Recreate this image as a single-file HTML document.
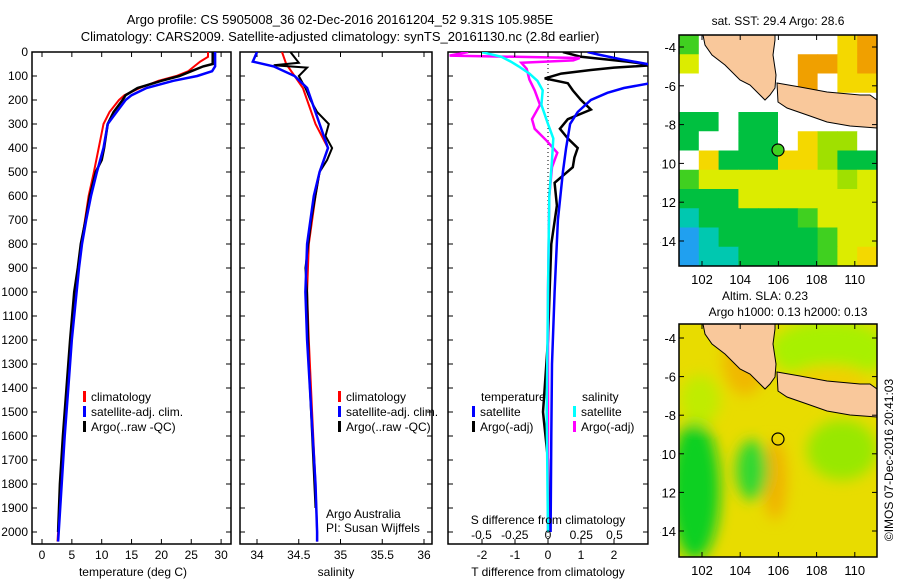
<!DOCTYPE html>
<html><head><meta charset="utf-8"><style>
body{margin:0;background:#fff;width:900px;height:580px;overflow:hidden}
svg{font-family:"Liberation Sans",sans-serif;display:block}
</style></head><body>
<svg id="s" width="900" height="580" viewBox="0 0 900 580">
<defs>
<clipPath id="c1"><rect x="32" y="52" width="199" height="492"/></clipPath>
<clipPath id="c2"><rect x="240" y="52" width="192" height="492"/></clipPath>
<clipPath id="c3"><rect x="448" y="52" width="200" height="492"/></clipPath>
<clipPath id="m1"><rect x="679" y="35" width="198" height="231"/></clipPath>
<clipPath id="m2"><rect x="679" y="324" width="198" height="233"/></clipPath>
<filter id="bl"><feGaussianBlur stdDeviation="7"/></filter>
</defs>
<text x="340" y="24" font-size="13" text-anchor="middle">Argo profile: CS 5905008_36 02-Dec-2016 20161204_52 9.31S 105.985E</text>
<text x="340" y="41" font-size="13" text-anchor="middle">Climatology: CARS2009. Satellite-adjusted climatology: synTS_20161130.nc (2.8d earlier)</text>
<g id="plots"></g>
<g id="maps"></g>
<text transform="translate(893,460) rotate(-90)" font-size="12" text-anchor="middle">©IMOS 07-Dec-2016 20:41:03</text>
</svg>
<script>
// ---------- data ----------
const tempClimDepth=[0,20,40,60,80,100,120,150,180,200,250,300,400,500,600,700,800,900,1000,1200,1400,1600,1800,2000,2040];
const tempClim=[27.8,27.8,26.5,25.5,24.5,22.5,19.5,16.4,13.8,12.9,11.3,10.3,9.5,8.7,7.8,7.2,6.6,6.0,5.5,4.8,4.2,3.6,3.1,2.7,2.6];
const tempSatDepth=[0,60,80,100,120,150,180,200,250,300,400,500,600,700,800,900,1000,1200,1400,1600,1800,2000,2040];
const tempSat=[29.0,29.0,28.5,26,22,17.5,15,14,12.5,11,10.3,9.2,8.2,7.4,6.7,6.2,5.8,5.0,4.4,3.8,3.3,2.8,2.7];
const tempArgoDepth=[0,50,60,80,100,120,150,180,200,250,300,350,400,450,500,600,700,800,900,1000,1200,1400,1600,1800,2000];
const tempArgo=[28.6,28.6,27,25,23,20,16,14,13.5,12,11,10.7,10.4,10,9,8,7.3,6.5,6,5.4,4.7,4.1,3.5,3.0,2.7];
const salClimDepth=[0,50,100,150,200,300,400,500,600,800,1000,1200,1500,1800,2000,2040];
const salClim=[34.3,34.35,34.45,34.55,34.6,34.7,34.85,34.75,34.7,34.62,34.6,34.62,34.66,34.7,34.72,34.72];
const salSatDepth=[0,40,60,100,150,200,300,400,500,600,800,1000,1200,1500,1800,2000,2040];
const salSat=[34.0,33.95,34.2,34.45,34.6,34.65,34.75,34.85,34.75,34.68,34.6,34.58,34.6,34.65,34.7,34.72,34.72];
const salArgoDepth=[0,45,55,65,100,150,200,250,300,350,400,450,500,700,900,1000,1300,1600,1900];
const salArgo=[34.4,34.5,34.2,34.6,34.5,34.58,34.64,34.72,34.86,34.82,34.9,34.84,34.75,34.65,34.58,34.6,34.62,34.66,34.7];
const dTsatDepth=[0,10,30,50,70,100,130,150,170,200,250,300,400,500,700,1000,1300,1600,2000];
const dTsat=[1.2,1.5,2.2,3.0,3.5,3.8,3.1,2.3,1.8,1.3,0.9,0.67,0.55,0.45,0.3,0.2,0.12,0.1,0.08];
const dTargoDepth=[0,20,40,55,65,75,90,110,130,160,200,240,280,320,360,400,440,480,545,640,800,1000,1200,1400,1500,1700,2000];
const dTargo=[0.45,1.0,2.4,3.2,2.0,1.3,0.4,-0.1,0.6,0.75,1.0,1.3,0.6,0.36,0.6,0.9,0.8,0.75,0.2,0.27,0.1,0.05,0.0,-0.1,-0.15,0.0,0.05];
const dSsatDepth=[0,20,40,60,90,120,160,220,300,360,450,600,1000,1500,2000];
const dSsat=[-0.5,-0.35,-0.28,-0.22,-0.14,-0.08,-0.04,-0.05,0.0,0.04,0.03,0.01,0.0,-0.01,0.0];
const dSargoDepth=[0,15,25,35,45,70,115,160,220,280,320,370,420,480,600,1000,1500,2000];
const dSargo=[-0.6,-0.74,0.24,0.19,-0.2,-0.16,-0.14,-0.1,-0.06,-0.12,-0.1,-0.01,0.07,0.03,0.01,0.0,0.0,0.0];
const depthTicks=[0,100,200,300,400,500,600,700,800,900,1000,1100,1200,1300,1400,1500,1600,1700,1800,1900,2000];
const tempTicks=[0,5,10,15,20,25,30];
const salTicks=[34,34.5,35,35.5,36];
const dTTicks=[-2,-1,0,1,2];
const dSTicks=[-0.5,-0.25,0,0.25,0.5];
const dSTickLabels=["-0.5","-0.25","0","0.25","0.5"];
// ---------- scales ----------
const yD=d=>52+d*0.24;
const xT=t=>42+t*5.97;
const xS=s=>257+(s-34)*83.5;
const xdT=t=>548+t*33;
const xdS=s=>548+s*133;
const NS='http://www.w3.org/2000/svg';
const P=document.getElementById('plots');
function mk(tag,at,parent){const e=document.createElementNS(NS,tag);for(const k in at)e.setAttribute(k,at[k]);(parent||P).appendChild(e);return e;}
function line(depths,vals,xf,color,w,clip,name){
  const pts=depths.map((d,i)=>xf(vals[i]).toFixed(1)+','+yD(d).toFixed(1)).join(' ');
  const e=mk('polyline',{points:pts,fill:'none',stroke:color,'stroke-width':w,'clip-path':'url(#'+clip+')'});
  
  
}
function txt(x,y,s,sz,anchor,name){const e=mk('text',{x:x,y:y,'font-size':sz,'text-anchor':anchor||'start'});e.textContent=s;
  
  return e;}
function frame(x0,x1,name){const e=mk('rect',{x:x0,y:52,width:x1-x0,height:492,fill:'none',stroke:'#000','stroke-width':1.5});
  
  
  depthTicks.forEach(d=>{mk('line',{x1:x0,x2:x0+5,y1:yD(d),y2:yD(d),stroke:'#000'});mk('line',{x1:x1-5,x2:x1,y1:yD(d),y2:yD(d),stroke:'#000'});});}
// panel 1
frame(32,231,'temperature-panel');
depthTicks.forEach(d=>txt(28,yD(d)+4,String(d),12,'end','depth-tick-label'));
tempTicks.forEach(t=>{mk('line',{x1:xT(t),x2:xT(t),y1:544,y2:539,stroke:'#000'});mk('line',{x1:xT(t),x2:xT(t),y1:52,y2:57,stroke:'#000'});txt(xT(t),559,String(t),12,'middle','temp-tick-label');});
txt(133,576,'temperature (deg C)',12,'middle','temp-axis-title');
line(tempClimDepth,tempClim,xT,'#f00',2,'c1','temp-climatology-line');
line(tempArgoDepth,tempArgo,xT,'#000',2.5,'c1','temp-argo-line');
line(tempSatDepth,tempSat,xT,'#00f',2.5,'c1','temp-satellite-line');
// panel 2
frame(240,432,'salinity-panel');
salTicks.forEach(s=>{mk('line',{x1:xS(s),x2:xS(s),y1:544,y2:539,stroke:'#000'});mk('line',{x1:xS(s),x2:xS(s),y1:52,y2:57,stroke:'#000'});txt(xS(s),559,String(s),12,'middle','sal-tick-label');});
txt(336,576,'salinity',12,'middle','sal-axis-title');
line(salClimDepth,salClim,xS,'#f00',2,'c2','sal-climatology-line');
line(salArgoDepth,salArgo,xS,'#000',2,'c2','sal-argo-line');
line(salSatDepth,salSat,xS,'#00f',2.5,'c2','sal-satellite-line');
// panel 3
frame(448,648,'difference-panel');
const z=mk('line',{x1:548,x2:548,y1:52,y2:544,stroke:'#000','stroke-dasharray':'1,3'});


line(dTargoDepth,dTargo,xdT,'#000',2.5,'c3','dT-argo-line');
line(dTsatDepth,dTsat,xdT,'#00f',2.5,'c3','dT-satellite-line');
line(dSargoDepth,dSargo,xdS,'#f0f',2.5,'c3','dS-argo-line');
line(dSsatDepth,dSsat,xdS,'#0ff',2.5,'c3','dS-satellite-line');
dTTicks.forEach(t=>{mk('line',{x1:xdT(t),x2:xdT(t),y1:544,y2:539,stroke:'#000'});txt(xdT(t),559,String(t),12,'middle','dT-tick-label');});
dSTicks.forEach((s,i)=>{mk('line',{x1:xdS(s),x2:xdS(s),y1:52,y2:57,stroke:'#000'});txt(xdS(s),539,dSTickLabels[i],12,'middle','dS-tick-label');});
txt(548,524,'S difference from climatology',12,'middle','dS-axis-title');
txt(548,576,'T difference from climatology',12,'middle','dT-axis-title');
// legends
function leg(x,y,c,s,name){mk('rect',{x:x,y:y-10,width:3,height:11,fill:c});txt(x+8,y,s,12,'start',name);}
leg(83,401,'#f00','climatology','legend-climatology');leg(83,416,'#00f','satellite-adj. clim.','legend-satellite');leg(83,431,'#000','Argo(..raw -QC)','legend-argo');
leg(338,401,'#f00','climatology','legend2-climatology');leg(338,416,'#00f','satellite-adj. clim.','legend2-satellite');leg(338,431,'#000','Argo(..raw -QC)','legend2-argo');
txt(481,401,'temperature',12,'start','legend3-temperature-heading');
txt(582,401,'salinity',12,'start','legend3-salinity-heading');
leg(472,416,'#00f','satellite','legend3-t-satellite');leg(472,431,'#000','Argo(-adj)','legend3-t-argo');
leg(573,416,'#0ff','satellite','legend3-s-satellite');leg(573,431,'#f0f','Argo(-adj)','legend3-s-argo');
txt(326,518,'Argo Australia',12,'start','credit-argo-australia');
txt(326,532,'PI: Susan Wijffels',12,'start','credit-pi');

// ---------- maps ----------
const M=document.getElementById('maps');
function mm(tag,at,parent){const e=document.createElementNS(NS,tag);for(const k in at)e.setAttribute(k,at[k]);(parent||M).appendChild(e);return e;}
const sstRows=["gWWWWWWWYO","yWWWWWOOYO","WWWWWWOWYY","WWWWWWWWWW","GGWGGWWWWW","GWWGGWYLLW","WYGGGYYLGG","gyyyyyyyLy","GGGyyyyyyy","CGGGGGgyyy","BCGGGGGgyy","BCCGGGGgyY"];
const pal={W:'#fff',Y:'#f4d800',O:'#f0a000',L:'#a0e000',G:'#00c040',g:'#40d020',C:'#00c8b0',B:'#20a0f0',y:'#dcec00'};
const g1=mm('g',{'clip-path':'url(#m1)'});


sstRows.forEach((r,i)=>[...r].forEach((c,j)=>mm('rect',{x:679+j*19.8,y:35+i*19.25,width:20.3,height:19.8,fill:pal[c]},g1)));
const g2=mm('g',{'clip-path':'url(#m2)'});


mm('rect',{x:679,y:324,width:198,height:233,fill:'#e8dc00'},g2);
const gb=mm('g',{filter:'url(#bl)'},g2);
[[830,350,60,30,'#a8f000'],[745,360,22,35,'#f0b800'],[775,480,12,40,'#f0b400'],[695,490,25,70,'#10d020'],[752,470,16,30,'#30d830'],[842,450,35,30,'#98e800'],[830,380,40,15,'#f0d000'],[700,400,20,25,'#c0ec00']].forEach(a=>mm('ellipse',{cx:a[0],cy:a[1],rx:a[2],ry:a[3],fill:a[4]},gb));
function land(g,dy){
  mm('polygon',{points:[[703,35],[775,35],[775,40],[773,55],[776,75],[775,88],[770,95],[765,100],[760,95],[750,85],[740,80],[725,65],[712,55],[705,45]].map(p=>p[0]+','+(p[1]+dy)).join(' '),fill:'#f9c89b',stroke:'#000','stroke-width':1},g);
  mm('polygon',{points:[[777,83],[800,87],[827,92],[860,95],[870,95],[877,100],[877,128],[850,126],[827,122],[810,116],[787,108],[778,102]].map(p=>p[0]+','+(p[1]+dy)).join(' '),fill:'#f9c89b',stroke:'#000','stroke-width':1},g);
  mm('circle',{cx:778,cy:150+dy,r:6,fill:dy?'none':'#40d020',stroke:'#000','stroke-width':1.2},g);
}
land(g1,0);land(g2,289);
const lats=[-4,-6,-8,-10,-12,-14], lons=[102,104,106,108,110];
[[35,266,47,'sst'],[324,557,338,'sla']].forEach(([y0,y1,ylat4,nm])=>{
  const r=mm('rect',{x:679,y:y0,width:198,height:y1-y0,fill:'none',stroke:'#000','stroke-width':1.5});
  
  
  const sc=(y1===266)?19.4:19.3;
  lats.forEach(l=>{const y=ylat4+(-4-l)*sc;mm('line',{x1:679,x2:684,y1:y,y2:y,stroke:'#000'});mm('line',{x1:872,x2:877,y1:y,y2:y,stroke:'#000'});
    const t=mm('text',{x:676,y:y+5,'font-size':13,'text-anchor':'end'});t.textContent=String(l);
    
    });
  lons.forEach(l=>{const x=702+(l-102)*19.1;mm('line',{x1:x,x2:x,y1:y1,y2:y1-5,stroke:'#000'});mm('line',{x1:x,x2:x,y1:y0,y2:y0+5,stroke:'#000'});
    const t=mm('text',{x:x,y:y1+18,'font-size':13,'text-anchor':'middle'});t.textContent=String(l);
    
    });
});
mm('rect',{x:648.8,y:36,width:12,height:530,fill:'#fff'});
function mt(x,y,s,name){const t=mm('text',{x:x,y:y,'font-size':12,'text-anchor':'middle'});t.textContent=s;
  
  }
mt(778,25,'sat. SST: 29.4 Argo: 28.6','sst-map-title');
mt(765,300,'Altim. SLA: 0.23','sla-map-title');
mt(788,316,'Argo h1000: 0.13 h2000: 0.13','sla-map-subtitle');
</script>
</body></html>
